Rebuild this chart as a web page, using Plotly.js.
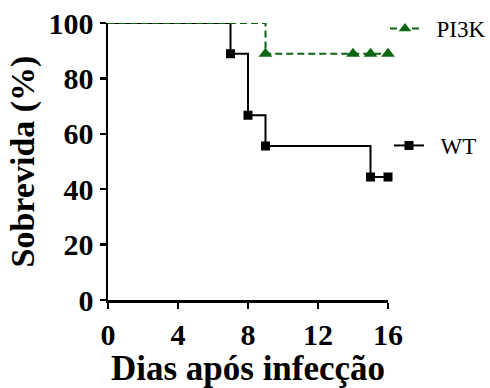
<!DOCTYPE html>
<html><head><meta charset="utf-8">
<script src="https://cdn.plot.ly/plotly-3.0.1.min.js"></script>
<style>html,body{margin:0;padding:0;background:#fff}#c{width:490px;height:388px}</style>
</head><body><div id="c"></div>
<script>
// Kaplan-Meier step data
const wtDays = [0, 7, 8, 9, 15, 16];
const wtSurv = [100, 88.9, 66.7, 55.6, 44.4, 44.4];
const wtMarkDays = [7, 8, 9, 15, 16];
const wtMarkSurv = [88.9, 66.7, 55.6, 44.4, 44.4];
const pDays = [0, 9, 14, 15, 16];
const pSurv = [100, 88.9, 88.9, 88.9, 88.9];
const pMarkDays = [9, 14, 15, 16];
const pMarkSurv = [88.9, 88.9, 88.9, 88.9];
const xTicks = [0, 4, 8, 12, 16];
const yTicks = [0, 20, 40, 60, 80, 100];

const green = '#0b6410';
const serif = 'Liberation Serif';

const traces = [
  {x: wtDays, y: wtSurv, mode: 'lines', line: {shape: 'hv', color: '#000', width: 2}, showlegend: false, cliponaxis: false},
  {x: wtMarkDays, y: wtMarkSurv, mode: 'markers', marker: {symbol: 'square', size: 9, color: '#000'}, showlegend: false, cliponaxis: false},
  {x: pDays, y: pSurv, mode: 'lines', line: {shape: 'hv', color: green, width: 2, dash: '7px,4px'}, showlegend: false, cliponaxis: false},
  {x: pMarkDays, y: pMarkSurv, mode: 'markers', marker: {symbol: 'triangle-up', size: 12, color: green}, showlegend: false, cliponaxis: false},
  // legend entries
  {x: [null], y: [null], mode: 'lines+markers', name: '\u00a0\u00a0PI3K', line: {color: green, width: 2, dash: '7px,4px'}, marker: {symbol: 'triangle-up', size: 11, color: green}, legend: 'legend'},
  {x: [null], y: [null], mode: 'lines+markers', name: '\u00a0\u00a0WT', line: {color: '#000', width: 2}, marker: {symbol: 'square', size: 9, color: '#000'}, legend: 'legend2'}
];

const L = 108, R = 102, T = 23, B = 88;
const pw = 490 - L - R, ph = 388 - T - B;
const layout = {
  width: 490, height: 388,
  margin: {l: L, r: R, t: T, b: B, autoexpand: false},
  paper_bgcolor: '#fff', plot_bgcolor: '#fff',
  font: {family: serif, color: '#000'},
  xaxis: {
    range: [0, 16], tickvals: xTicks, ticktext: xTicks.map(String),
    showgrid: false, zeroline: false, showline: true, linecolor: '#000', linewidth: 2.5,
    ticks: 'outside', ticklen: 6, tickwidth: 2.5, tickcolor: '#000',
    tickfont: {family: serif, size: 30, color: '#000', weight: 'bold'},
    title: {text: 'Dias após infecção', font: {family: serif, size: 35, color: '#000', weight: 'bold'}, standoff: 6}
  },
  yaxis: {
    range: [0, 100], tickvals: yTicks, ticktext: yTicks.map(String),
    showgrid: false, zeroline: false, showline: true, linecolor: '#000', linewidth: 2.5,
    ticks: 'outside', ticklen: 6, tickwidth: 2.5, tickcolor: '#000',
    tickfont: {family: serif, size: 30, color: '#000', weight: 'bold'},
    title: {text: 'Sobrevida (%)', font: {family: serif, size: 34, color: '#000', weight: 'bold'}, standoff: 4}
  },
  legend: {
    x: (385 - L) / pw, y: (300 - 7) / ph, xanchor: 'left', yanchor: 'top',
    font: {family: serif, size: 23, color: '#000'}, bgcolor: 'rgba(0,0,0,0)'
  },
  legend2: {
    x: (389 - L) / pw, y: (300 - 124) / ph, xanchor: 'left', yanchor: 'top',
    font: {family: serif, size: 23, color: '#000'}, bgcolor: 'rgba(0,0,0,0)'
  },
  showlegend: true
};

Plotly.newPlot('c', traces, layout, {displayModeBar: false, staticPlot: true});
</script></body></html>
